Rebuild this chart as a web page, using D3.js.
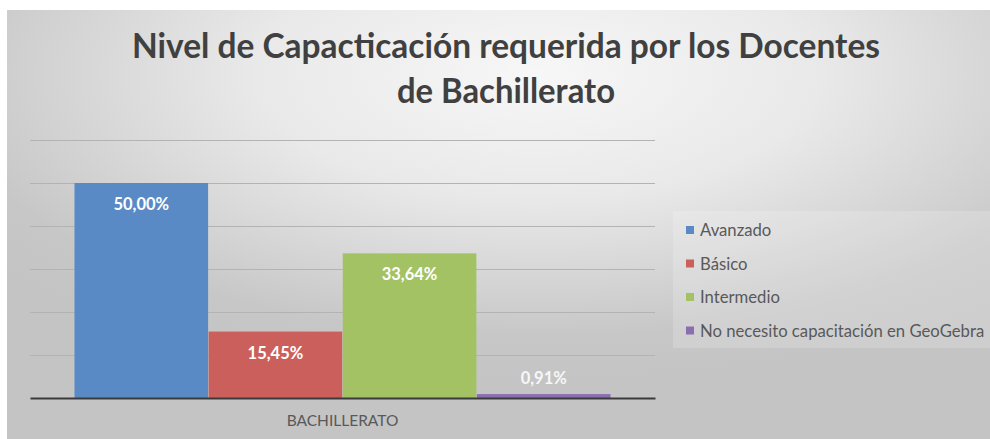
<!DOCTYPE html>
<html>
<head>
<meta charset="utf-8">
<script src="https://cdn.jsdelivr.net/npm/d3@7"></script>
<style>
  html, body { margin: 0; padding: 0; background: #fff; }
  svg { display: block; font-family: Lato, "Open Sans", sans-serif; }
</style>
</head>
<body>
<div id="chart"></div>
<script>
// data
const categories = ['BACHILLERATO'];
const series = ['Avanzado', 'Básico', 'Intermedio', 'No necesito capacitación en GeoGebra'];
const values = [50.00, 15.45, 33.64, 0.91];
const colors = ['#5a8ac6', '#cb5f5c', '#a3c264', '#8a6fb0'];
const yTicks = [0, 10, 20, 30, 40, 50, 60];
const titleLines = ['Nivel de Capacticación requerida por los Docentes', 'de Bachillerato'];

const width = 990, height = 439;
const plot = { left: 30, right: 655, top: 140, bottom: 398 };

const svg = d3.select('#chart').append('svg')
    .attr('width', width)
    .attr('height', height);

const defs = svg.append('defs');
const grad = defs.append('radialGradient')
    .attr('id', 'bg')
    .attr('cx', '54%').attr('cy', '15%').attr('r', '72%');
grad.append('stop').attr('offset', '0%').attr('stop-color', '#f7f7f7');
grad.append('stop').attr('offset', '40%').attr('stop-color', '#e9e9e9');
grad.append('stop').attr('offset', '85%').attr('stop-color', '#c7c7c7');
grad.append('stop').attr('offset', '100%').attr('stop-color', '#c4c4c4');

svg.append('rect')
    .attr('x', 7).attr('y', 10)
    .attr('width', width - 7).attr('height', height - 10)
    .attr('fill', 'url(#bg)');

// title
const title = svg.append('g').attr('fill', '#404040')
    .attr('font-weight', 'bold').attr('font-size', 33.5)
    .attr('text-anchor', 'middle');
title.selectAll('text')
    .data(titleLines)
    .join('text')
    .attr('x', 506)
    .attr('y', (d, i) => 58 + i * 45)
    .text(d => d);
// squeeze to the width seen in the picture (Calibri is narrower)
title.selectAll('text').each(function (d, i) {
    const target = i === 0 ? 748 : 218;
    if (this.getComputedTextLength() > target) {
        d3.select(this).attr('textLength', target).attr('lengthAdjust', 'spacingAndGlyphs');
    }
});

// scales
const y = d3.scaleLinear().domain([0, 60]).range([plot.bottom, plot.top]);
const x0 = d3.scaleBand().domain(categories)
    .range([plot.left, plot.right]).paddingInner(0).paddingOuter(0.083);
const x1 = d3.scaleBand().domain(series)
    .range([0, x0.bandwidth()]).paddingInner(0.004);

// gridlines
svg.append('g')
    .attr('transform', `translate(${plot.left},0)`)
    .call(d3.axisLeft(y).tickValues(yTicks.slice(1)).tickSize(-(plot.right - plot.left)).tickFormat(''))
    .call(g => g.select('.domain').remove())
    .call(g => g.selectAll('.tick line').attr('stroke', '#b3b3b3').attr('stroke-width', 1));

// bars
const rows = series.map((s, i) => ({ series: s, value: values[i], color: colors[i] }));
const bars = svg.append('g')
    .selectAll('g')
    .data(categories)
    .join('g')
    .attr('transform', d => `translate(${x0(d)},0)`);

bars.selectAll('rect')
    .data(rows)
    .join('rect')
    .attr('x', d => x1(d.series))
    .attr('y', d => y(d.value))
    .attr('width', x1.bandwidth())
    .attr('height', d => y(0) - y(d.value))
    .attr('fill', d => d.color);

const fmt = v => d3.format('.2f')(v).replace('.', ',') + '%';
bars.selectAll('text')
    .data(rows)
    .join('text')
    .attr('x', d => x1(d.series) + x1.bandwidth() / 2)
    .attr('y', d => d.value > 5 ? y(d.value) + 27 : y(d.value) - 10)
    .attr('text-anchor', 'middle')
    .attr('font-weight', 'bold')
    .attr('font-size', 16.5)
    .attr('fill', d => d.value > 5 ? '#ffffff' : '#f7f7f7')
    .text(d => fmt(d.value));

// x axis
svg.append('g')
    .attr('transform', `translate(0,${plot.bottom})`)
    .call(d3.axisBottom(x0).tickSize(0).tickPadding(17))
    .call(g => g.select('.domain').attr('stroke', '#3a3a3a').attr('stroke-width', 2))
    .call(g => g.selectAll('.tick text')
        .attr('font-family', 'Lato, "Open Sans", sans-serif')
        .attr('font-size', 15.5).attr('fill', '#595959'));

// legend
svg.append('rect')
    .attr('x', 673).attr('y', 211)
    .attr('width', width - 673).attr('height', 137)
    .attr('fill', '#ffffff').attr('fill-opacity', 0.18);

const legend = svg.append('g')
    .selectAll('g')
    .data(rows)
    .join('g')
    .attr('transform', (d, i) => `translate(686,${230 + i * 33.5})`);
legend.append('rect')
    .attr('x', 0).attr('y', -4)
    .attr('width', 8).attr('height', 8)
    .attr('fill', d => d.color);
legend.append('text')
    .attr('x', 14).attr('y', 6)
    .attr('font-size', 16.7)
    .attr('fill', '#595959')
    .text(d => d.series);
</script>
</body>
</html>
